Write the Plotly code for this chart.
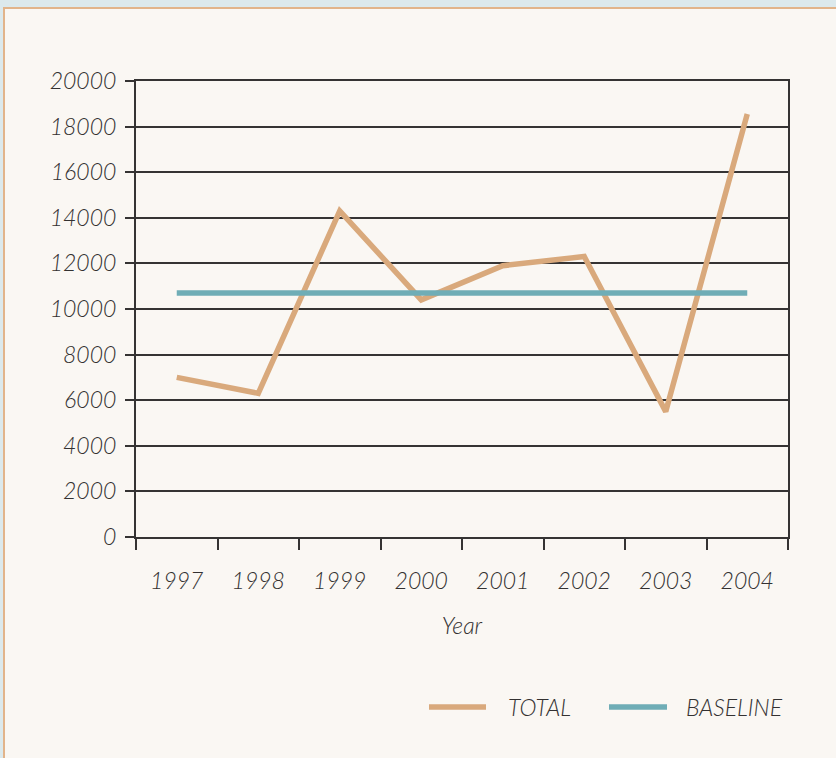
import plotly.graph_objects as go

years = ["1997", "1998", "1999", "2000", "2001", "2002", "2003", "2004"]
total = [7000, 6300, 14300, 10400, 11900, 12300, 5500, 18550]
baseline = [10700, 10700, 10700, 10700, 10700, 10700, 10700, 10700]
y_ticks = [0, 2000, 4000, 6000, 8000, 10000, 12000, 14000, 16000, 18000, 20000]
series_names = ["TOTAL", "BASELINE"]
series_colors = ["#d9a97c", "#6fadb6"]

W, H = 836, 758
L, R, T, B = 136, 48, 81, 221
pw, ph = W - L - R, H - T - B

def px(x):
    return (x - L) / pw

def py(y):
    return (H - B - y) / ph

FONT = "Lato"
TXT = "#333131"
GRID = "#353333"
FNT = dict(size=23, family=FONT, style="italic", weight=300, color=TXT)

fig = go.Figure()
for name, vals, col in zip(series_names, [total, baseline], series_colors):
    fig.add_trace(go.Scatter(x=years, y=vals, mode="lines", name=name,
                             line=dict(color=col, width=5.5), showlegend=False,
                             hoverinfo="skip"))

shapes = [dict(type="rect", xref="paper", yref="paper", layer="below",
               x0=px(4), x1=px(W + 10), y0=py(8), y1=py(H + 10),
               fillcolor="#faf7f3", line=dict(color="#e2b48a", width=2))]
annotations = []
# manual legend
leg = [(429, 486, 506), (609, 667, 684)]
for (x0, x1, tx), name, col in zip(leg, series_names, series_colors):
    shapes.append(dict(type="line", xref="paper", yref="paper",
                       x0=px(x0), x1=px(x1), y0=py(707), y1=py(707),
                       line=dict(color=col, width=5.5)))
    annotations.append(dict(xref="paper", yref="paper", x=px(tx), y=py(707),
                            xanchor="left", yanchor="middle", text=name,
                            showarrow=False, font=FNT))

fig.update_layout(
    width=W, height=H,
    margin=dict(l=L, r=R, t=T, b=B, pad=0),
    paper_bgcolor="#dce9ec",
    plot_bgcolor="#faf7f3",
    font=FNT,
    showlegend=False,
    shapes=shapes,
    annotations=annotations,
)

fig.update_xaxes(
    type="category", tickson="boundaries",
    showgrid=False, showline=True, linecolor=GRID, linewidth=2, mirror=True,
    ticks="outside", ticklen=11, tickwidth=2, tickcolor=GRID,
    ticklabelstandoff=22,
    tickfont=FNT,
    title=dict(text="Year", standoff=25, font=FNT),
    range=[-0.5, 7.5], zeroline=False,
)
fig.update_yaxes(
    range=[0, 20000], tickvals=y_ticks, ticktext=[str(v) for v in y_ticks],
    showgrid=True, gridcolor=GRID, gridwidth=2,
    showline=True, linecolor=GRID, linewidth=2, mirror=True,
    ticks="outside", ticklen=9, tickwidth=2, tickcolor=GRID,
    ticklabelstandoff=4, zeroline=False,
    tickfont=FNT,
)

fig.write_html("out.html",
               config={"displayModeBar": False, "staticPlot": True},
               post_script="document.body.style.margin='0';"
                           "document.body.style.padding='0';"
                           "document.body.style.background='#dce9ec';")
